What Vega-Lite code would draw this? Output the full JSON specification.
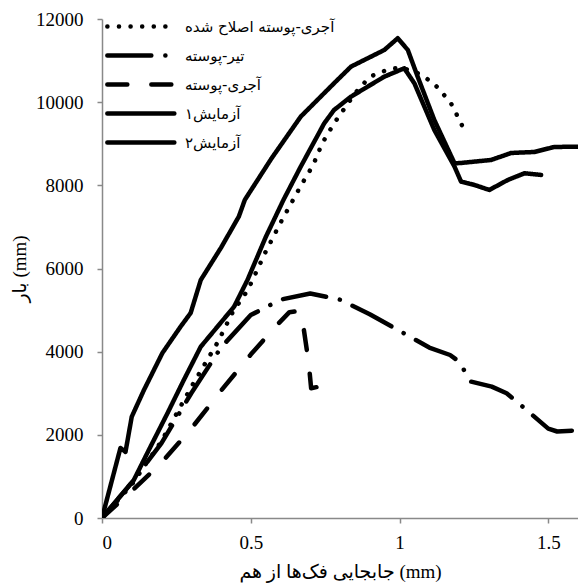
{
  "$schema": "https://vega.github.io/schema/vega-lite/v6.json",
  "autosize": {"type": "none"},
  "width": 476,
  "height": 499,
  "padding": {"left": 102, "top": 19, "right": 0, "bottom": 66},
  "background": "white",
  "config": {
    "view": {"stroke": null},
    "font": "Liberation Serif, DejaVu Sans",
    "axis": {
      "domainColor": "#898989",
      "tickColor": "#898989",
      "domainWidth": 1.5,
      "tickWidth": 1.5,
      "tickSize": 5,
      "grid": false,
      "labelFont": "Liberation Serif",
      "labelFontSize": 19,
      "labelColor": "black",
      "titleFont": "Liberation Serif, DejaVu Sans",
      "titleFontSize": 19,
      "titleFontWeight": "normal",
      "titleColor": "black"
    }
  },
  "datasets": {
    "d": [
      {"s": "آجری-پوسته اصلاح شده", "x": 0, "y": 0},
      {"s": "آجری-پوسته اصلاح شده", "x": 0.1, "y": 800},
      {"s": "آجری-پوسته اصلاح شده", "x": 0.2, "y": 1850},
      {"s": "آجری-پوسته اصلاح شده", "x": 0.3, "y": 3150},
      {"s": "آجری-پوسته اصلاح شده", "x": 0.39, "y": 4240},
      {"s": "آجری-پوسته اصلاح شده", "x": 0.44, "y": 4960},
      {"s": "آجری-پوسته اصلاح شده", "x": 0.49, "y": 5480},
      {"s": "آجری-پوسته اصلاح شده", "x": 0.55, "y": 6400},
      {"s": "آجری-پوسته اصلاح شده", "x": 0.6, "y": 7100},
      {"s": "آجری-پوسته اصلاح شده", "x": 0.67, "y": 8010},
      {"s": "آجری-پوسته اصلاح شده", "x": 0.71, "y": 8490},
      {"s": "آجری-پوسته اصلاح شده", "x": 0.74, "y": 9010},
      {"s": "آجری-پوسته اصلاح شده", "x": 0.78, "y": 9490},
      {"s": "آجری-پوسته اصلاح شده", "x": 0.85, "y": 10210},
      {"s": "آجری-پوسته اصلاح شده", "x": 0.9, "y": 10610},
      {"s": "آجری-پوسته اصلاح شده", "x": 0.94, "y": 10730},
      {"s": "آجری-پوسته اصلاح شده", "x": 0.98, "y": 10815},
      {"s": "آجری-پوسته اصلاح شده", "x": 1.02, "y": 10800},
      {"s": "آجری-پوسته اصلاح شده", "x": 1.06, "y": 10700},
      {"s": "آجری-پوسته اصلاح شده", "x": 1.09, "y": 10574},
      {"s": "آجری-پوسته اصلاح شده", "x": 1.12, "y": 10414},
      {"s": "آجری-پوسته اصلاح شده", "x": 1.145, "y": 10214},
      {"s": "آجری-پوسته اصلاح شده", "x": 1.173, "y": 9973},
      {"s": "آجری-پوسته اصلاح شده", "x": 1.19, "y": 9733},
      {"s": "آجری-پوسته اصلاح شده", "x": 1.207, "y": 9492},
      {"s": "آجری-پوسته اصلاح شده", "x": 1.224, "y": 9211},

      {"s": "تیر-پوسته", "x": 0, "y": 0},
      {"s": "تیر-پوسته", "x": 0.1, "y": 850},
      {"s": "تیر-پوسته", "x": 0.2, "y": 1800},
      {"s": "تیر-پوسته", "x": 0.3, "y": 3000},
      {"s": "تیر-پوسته", "x": 0.4, "y": 4100},
      {"s": "تیر-پوسته", "x": 0.5, "y": 4880},
      {"s": "تیر-پوسته", "x": 0.6, "y": 5250},
      {"s": "تیر-پوسته", "x": 0.7, "y": 5400},
      {"s": "تیر-پوسته", "x": 0.8, "y": 5250},
      {"s": "تیر-پوسته", "x": 0.9, "y": 4900},
      {"s": "تیر-پوسته", "x": 1.0, "y": 4500},
      {"s": "تیر-پوسته", "x": 1.1, "y": 4100},
      {"s": "تیر-پوسته", "x": 1.17, "y": 3920},
      {"s": "تیر-پوسته", "x": 1.2, "y": 3760},
      {"s": "تیر-پوسته", "x": 1.24, "y": 3280},
      {"s": "تیر-پوسته", "x": 1.31, "y": 3160},
      {"s": "تیر-پوسته", "x": 1.36, "y": 3000},
      {"s": "تیر-پوسته", "x": 1.42, "y": 2640},
      {"s": "تیر-پوسته", "x": 1.5, "y": 2150},
      {"s": "تیر-پوسته", "x": 1.53, "y": 2080},
      {"s": "تیر-پوسته", "x": 1.6, "y": 2110},

      {"s": "آجری-پوسته", "x": 0, "y": 0},
      {"s": "آجری-پوسته", "x": 0.1, "y": 650},
      {"s": "آجری-پوسته", "x": 0.2, "y": 1330},
      {"s": "آجری-پوسته", "x": 0.3, "y": 2150},
      {"s": "آجری-پوسته", "x": 0.4, "y": 3060},
      {"s": "آجری-پوسته", "x": 0.5, "y": 3930},
      {"s": "آجری-پوسته", "x": 0.58, "y": 4580},
      {"s": "آجری-پوسته", "x": 0.63, "y": 4950},
      {"s": "آجری-پوسته", "x": 0.66, "y": 4980},
      {"s": "آجری-پوسته", "x": 0.675, "y": 4700},
      {"s": "آجری-پوسته", "x": 0.695, "y": 3720},
      {"s": "آجری-پوسته", "x": 0.703, "y": 3120},
      {"s": "آجری-پوسته", "x": 0.73, "y": 3160},

      {"s": "آزمایش۱", "x": 0, "y": 0},
      {"s": "آزمایش۱", "x": 0.107, "y": 914},
      {"s": "آزمایش۱", "x": 0.163, "y": 1715},
      {"s": "آزمایش۱", "x": 0.22, "y": 2518},
      {"s": "آزمایش۱", "x": 0.275, "y": 3319},
      {"s": "آزمایش۱", "x": 0.332, "y": 4120},
      {"s": "آزمایش۱", "x": 0.388, "y": 4600},
      {"s": "آزمایش۱", "x": 0.444, "y": 5082},
      {"s": "آزمایش۱", "x": 0.489, "y": 5724},
      {"s": "آزمایش۱", "x": 0.55, "y": 6750},
      {"s": "آزمایش۱", "x": 0.61, "y": 7650},
      {"s": "آزمایش۱", "x": 0.668, "y": 8450},
      {"s": "آزمایش۱", "x": 0.747, "y": 9492},
      {"s": "آزمایش۱", "x": 0.78, "y": 9812},
      {"s": "آزمایش۱", "x": 0.837, "y": 10133},
      {"s": "آزمایش۱", "x": 0.893, "y": 10373},
      {"s": "آزمایش۱", "x": 0.949, "y": 10614},
      {"s": "آزمایش۱", "x": 1.016, "y": 10815},
      {"s": "آزمایش۱", "x": 1.05, "y": 10454},
      {"s": "آزمایش۱", "x": 1.117, "y": 9331},
      {"s": "آزمایش۱", "x": 1.185, "y": 8449},
      {"s": "آزمایش۱", "x": 1.207, "y": 8088},
      {"s": "آزمایش۱", "x": 1.252, "y": 8009},
      {"s": "آزمایش۱", "x": 1.302, "y": 7889},
      {"s": "آزمایش۱", "x": 1.364, "y": 8129},
      {"s": "آزمایش۱", "x": 1.42, "y": 8290},
      {"s": "آزمایش۱", "x": 1.476, "y": 8250},

      {"s": "آزمایش۲", "x": 0, "y": 0},
      {"s": "آزمایش۲", "x": 0.062, "y": 1683},
      {"s": "آزمایش۲", "x": 0.079, "y": 1590},
      {"s": "آزمایش۲", "x": 0.1, "y": 2436},
      {"s": "آزمایش۲", "x": 0.141, "y": 3078},
      {"s": "آزمایش۲", "x": 0.203, "y": 3968},
      {"s": "آزمایش۲", "x": 0.264, "y": 4600},
      {"s": "آزمایش۲", "x": 0.298, "y": 4930},
      {"s": "آزمایش۲", "x": 0.332, "y": 5724},
      {"s": "آزمایش۲", "x": 0.4, "y": 6500},
      {"s": "آزمایش۲", "x": 0.46, "y": 7250},
      {"s": "آزمایش۲", "x": 0.48, "y": 7650},
      {"s": "آزمایش۲", "x": 0.57, "y": 8650},
      {"s": "آزمایش۲", "x": 0.668, "y": 9652},
      {"s": "آزمایش۲", "x": 0.78, "y": 10454},
      {"s": "آزمایش۲", "x": 0.837, "y": 10855},
      {"s": "آزمایش۲", "x": 0.893, "y": 11055},
      {"s": "آزمایش۲", "x": 0.949, "y": 11255},
      {"s": "آزمایش۲", "x": 0.994, "y": 11537},
      {"s": "آزمایش۲", "x": 1.028, "y": 11255},
      {"s": "آزمایش۲", "x": 1.061, "y": 10614},
      {"s": "آزمایش۲", "x": 1.117, "y": 9572},
      {"s": "آزمایش۲", "x": 1.185, "y": 8530},
      {"s": "آزمایش۲", "x": 1.207, "y": 8538},
      {"s": "آزمایش۲", "x": 1.308, "y": 8610},
      {"s": "آزمایش۲", "x": 1.375, "y": 8778},
      {"s": "آزمایش۲", "x": 1.453, "y": 8802},
      {"s": "آزمایش۲", "x": 1.52, "y": 8922},
      {"s": "آزمایش۲", "x": 1.6, "y": 8930}
    ]
  },
  "data": {"name": "d"},
  "mark": {"type": "line", "color": "black", "strokeWidth": 4.5, "strokeCap": "round", "strokeJoin": "round", "clip": true},
  "encoding": {
    "x": {
      "field": "x", "type": "quantitative",
      "scale": {"domain": [0, 1.6], "nice": false, "zero": true},
      "axis": {"values": [0, 0.5, 1, 1.5], "format": "~g", "labelPadding": 10, "title": "جابجایی فک‌ها از هم (mm)", "titlePadding": 10}
    },
    "y": {
      "field": "y", "type": "quantitative",
      "scale": {"domain": [0, 12000], "nice": false},
      "axis": {"values": [0, 2000, 4000, 6000, 8000, 10000, 12000], "format": "d", "labelPadding": 14, "title": "بار (mm)", "titlePadding": 6}
    },
    "strokeDash": {
      "field": "s", "type": "nominal",
      "scale": {
        "domain": ["آجری-پوسته اصلاح شده", "تیر-پوسته", "آجری-پوسته", "آزمایش۱", "آزمایش۲"],
        "range": [[0.1, 11.5], [44, 14, 0.1, 14], [20, 24], [1, 0], [1, 0]]
      },
      "legend": {
        "title": null,
        "orient": "none",
        "legendX": 3,
        "legendY": -6,
        "symbolType": "M-1,0H5",
        "symbolSize": 499,
        "symbolStrokeWidth": 4.5,
        "symbolStrokeColor": "black",
        "symbolFillColor": "transparent",
        "labelFont": "DejaVu Sans",
        "labelFontSize": 15,
        "labelColor": "black",
        "labelLimit": 300,
        "labelOffset": 53,
        "rowPadding": 6,
        "encoding": {"symbols": {"strokeCap": {"value": "round"}}}
      }
    }
  }
}
